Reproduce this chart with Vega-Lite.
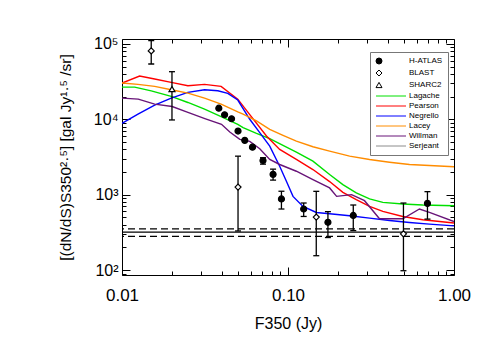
{
  "$schema": "https://vega.github.io/schema/vega-lite/v6.json",
  "width": 332,
  "height": 236,
  "autosize": {"type": "none"},
  "padding": {"left": 122, "top": 39, "right": 37, "bottom": 79},
  "background": "white",
  "datasets": {
    "models": [
      {"series": "Lagache", "F": 0.01, "N": 26720},
      {"series": "Lagache", "F": 0.01192, "N": 26720},
      {"series": "Lagache", "F": 0.015, "N": 23840},
      {"series": "Lagache", "F": 0.01979, "N": 20080},
      {"series": "Lagache", "F": 0.02494, "N": 16700},
      {"series": "Lagache", "F": 0.03143, "N": 13590},
      {"series": "Lagache", "F": 0.03954, "N": 10870},
      {"series": "Lagache", "F": 0.04983, "N": 8577},
      {"series": "Lagache", "F": 0.05363, "N": 7752},
      {"series": "Lagache", "F": 0.06457, "N": 6506},
      {"series": "Lagache", "F": 0.07762, "N": 5529},
      {"series": "Lagache", "F": 0.0933, "N": 4500},
      {"series": "Lagache", "F": 0.1123, "N": 3664},
      {"series": "Lagache", "F": 0.1413, "N": 2780},
      {"series": "Lagache", "F": 0.1781, "N": 1848},
      {"series": "Lagache", "F": 0.2141, "N": 1359},
      {"series": "Lagache", "F": 0.2578, "N": 1054},
      {"series": "Lagache", "F": 0.3099, "N": 877},
      {"series": "Lagache", "F": 0.3726, "N": 790},
      {"series": "Lagache", "F": 0.4914, "N": 752},
      {"series": "Lagache", "F": 0.6483, "N": 729},
      {"series": "Lagache", "F": 1.0, "N": 713},
      {"series": "Pearson", "F": 0.01, "N": 30200},
      {"series": "Pearson", "F": 0.01277, "N": 37400},
      {"series": "Pearson", "F": 0.01573, "N": 34150},
      {"series": "Pearson", "F": 0.01979, "N": 30850},
      {"series": "Pearson", "F": 0.02494, "N": 27800},
      {"series": "Pearson", "F": 0.03143, "N": 29000},
      {"series": "Pearson", "F": 0.03954, "N": 27300},
      {"series": "Pearson", "F": 0.04983, "N": 18480},
      {"series": "Pearson", "F": 0.05884, "N": 11500},
      {"series": "Pearson", "F": 0.07418, "N": 5990},
      {"series": "Pearson", "F": 0.0891, "N": 3981},
      {"series": "Pearson", "F": 0.1123, "N": 2929},
      {"series": "Pearson", "F": 0.1413, "N": 2154},
      {"series": "Pearson", "F": 0.1781, "N": 1491},
      {"series": "Pearson", "F": 0.2141, "N": 1073},
      {"series": "Pearson", "F": 0.2578, "N": 858},
      {"series": "Pearson", "F": 0.3099, "N": 698},
      {"series": "Pearson", "F": 0.3726, "N": 599},
      {"series": "Pearson", "F": 0.4914, "N": 514},
      {"series": "Pearson", "F": 0.6483, "N": 464},
      {"series": "Pearson", "F": 1.0, "N": 420},
      {"series": "Negrello", "F": 0.01, "N": 8845},
      {"series": "Negrello", "F": 0.01248, "N": 11660},
      {"series": "Negrello", "F": 0.01573, "N": 15370},
      {"series": "Negrello", "F": 0.01979, "N": 19050},
      {"series": "Negrello", "F": 0.02494, "N": 22700},
      {"series": "Negrello", "F": 0.03143, "N": 24580},
      {"series": "Negrello", "F": 0.03779, "N": 23840},
      {"series": "Negrello", "F": 0.04339, "N": 22010},
      {"series": "Negrello", "F": 0.04983, "N": 18000},
      {"series": "Negrello", "F": 0.05884, "N": 10000},
      {"series": "Negrello", "F": 0.06757, "N": 6648},
      {"series": "Negrello", "F": 0.07762, "N": 4406},
      {"series": "Negrello", "F": 0.0891, "N": 2384},
      {"series": "Negrello", "F": 0.0978, "N": 1504},
      {"series": "Negrello", "F": 0.1072, "N": 949},
      {"series": "Negrello", "F": 0.1231, "N": 698},
      {"series": "Negrello", "F": 0.1482, "N": 581},
      {"series": "Negrello", "F": 0.1781, "N": 558},
      {"series": "Negrello", "F": 0.235, "N": 525},
      {"series": "Negrello", "F": 0.3099, "N": 489},
      {"series": "Negrello", "F": 0.4088, "N": 454},
      {"series": "Negrello", "F": 0.5392, "N": 427},
      {"series": "Negrello", "F": 0.7112, "N": 407},
      {"series": "Negrello", "F": 1.0, "N": 386},
      {"series": "Lacey", "F": 0.01, "N": 30200},
      {"series": "Lacey", "F": 0.01248, "N": 29000},
      {"series": "Lacey", "F": 0.01573, "N": 27300},
      {"series": "Lacey", "F": 0.01979, "N": 24580},
      {"series": "Lacey", "F": 0.02494, "N": 22220},
      {"series": "Lacey", "F": 0.03143, "N": 19050},
      {"series": "Lacey", "F": 0.03954, "N": 15850},
      {"series": "Lacey", "F": 0.04983, "N": 12510},
      {"series": "Lacey", "F": 0.05363, "N": 11660},
      {"series": "Lacey", "F": 0.06457, "N": 9490},
      {"series": "Lacey", "F": 0.07762, "N": 7356},
      {"series": "Lacey", "F": 0.0933, "N": 6118},
      {"series": "Lacey", "F": 0.1123, "N": 5136},
      {"series": "Lacey", "F": 0.1413, "N": 4325},
      {"series": "Lacey", "F": 0.1781, "N": 3779},
      {"series": "Lacey", "F": 0.235, "N": 3241},
      {"series": "Lacey", "F": 0.3099, "N": 2929},
      {"series": "Lacey", "F": 0.4088, "N": 2696},
      {"series": "Lacey", "F": 0.5392, "N": 2512},
      {"series": "Lacey", "F": 0.7112, "N": 2436},
      {"series": "Lacey", "F": 1.0, "N": 2341},
      {"series": "Willman", "F": 0.01, "N": 19050},
      {"series": "Willman", "F": 0.01253, "N": 18480},
      {"series": "Willman", "F": 0.01573, "N": 15850},
      {"series": "Willman", "F": 0.02006, "N": 14770},
      {"series": "Willman", "F": 0.02449, "N": 12510},
      {"series": "Willman", "F": 0.03156, "N": 10220},
      {"series": "Willman", "F": 0.03976, "N": 8577},
      {"series": "Willman", "F": 0.04461, "N": 6772},
      {"series": "Willman", "F": 0.05124, "N": 5412},
      {"series": "Willman", "F": 0.05884, "N": 5090},
      {"series": "Willman", "F": 0.06757, "N": 4067},
      {"series": "Willman", "F": 0.07762, "N": 2929},
      {"series": "Willman", "F": 0.0891, "N": 2512},
      {"series": "Willman", "F": 0.1123, "N": 2045},
      {"series": "Willman", "F": 0.1413, "N": 1585},
      {"series": "Willman", "F": 0.1781, "N": 1228},
      {"series": "Willman", "F": 0.1963, "N": 949},
      {"series": "Willman", "F": 0.2415, "N": 1000},
      {"series": "Willman", "F": 0.2891, "N": 832},
      {"series": "Willman", "F": 0.3558, "N": 479},
      {"series": "Willman", "F": 0.4914, "N": 479},
      {"series": "Willman", "F": 0.6194, "N": 645},
      {"series": "Willman", "F": 0.7112, "N": 581},
      {"series": "Willman", "F": 1.0, "N": 441}
    ],
    "obs": [
      {"series": "H-ATLAS", "F": 0.0383, "N": 14020},
      {"series": "H-ATLAS", "F": 0.0415, "N": 11480},
      {"series": "H-ATLAS", "F": 0.0457, "N": 10150},
      {"series": "H-ATLAS", "F": 0.05, "N": 6980},
      {"series": "H-ATLAS", "F": 0.0549, "N": 5250},
      {"series": "H-ATLAS", "F": 0.0611, "N": 4270},
      {"series": "H-ATLAS", "F": 0.0707, "N": 2840},
      {"series": "H-ATLAS", "F": 0.0813, "N": 1860},
      {"series": "H-ATLAS", "F": 0.0913, "N": 877},
      {"series": "H-ATLAS", "F": 0.1243, "N": 645},
      {"series": "H-ATLAS", "F": 0.174, "N": 430},
      {"series": "H-ATLAS", "F": 0.2473, "N": 530},
      {"series": "H-ATLAS", "F": 0.692, "N": 766},
      {"series": "BLAST", "F": 0.015, "N": 80700},
      {"series": "BLAST", "F": 0.05, "N": 1259},
      {"series": "BLAST", "F": 0.148, "N": 504},
      {"series": "BLAST", "F": 0.496, "N": 302},
      {"series": "SHARC2", "F": 0.02, "N": 25100}
    ],
    "errs": [
      {"series": "H-ATLAS", "F": 0.0707, "lo": 2540, "hi": 3090},
      {"series": "H-ATLAS", "F": 0.0813, "lo": 1560, "hi": 2180},
      {"series": "H-ATLAS", "F": 0.0913, "lo": 645, "hi": 1110},
      {"series": "H-ATLAS", "F": 0.1243, "lo": 514, "hi": 775},
      {"series": "H-ATLAS", "F": 0.174, "lo": 270, "hi": 595},
      {"series": "H-ATLAS", "F": 0.2473, "lo": 334, "hi": 729},
      {"series": "H-ATLAS", "F": 0.692, "lo": 474, "hi": 1096},
      {"series": "BLAST", "F": 0.015, "lo": 54100, "hi": 110700},
      {"series": "BLAST", "F": 0.05, "lo": 330, "hi": 3240},
      {"series": "BLAST", "F": 0.148, "lo": 155, "hi": 1107},
      {"series": "BLAST", "F": 0.496, "lo": 98, "hi": 774},
      {"series": "SHARC2", "F": 0.02, "lo": 9790, "hi": 42750}
    ],
    "hlines": [
      {"kind": "solid", "N": 318},
      {"kind": "dashed", "N": 352},
      {"kind": "dashed", "N": 279}
    ]
  },
  "layer": [
    {
      "data": {"name": "hlines"},
      "mark": {"type": "rule", "color": "black", "strokeWidth": 1.3},
      "encoding": {
        "y": {"field": "N", "type": "quantitative", "scale": {"type": "log", "domain": [86, 116000], "nice": false, "padding": 0}, "axis": null},
        "strokeDash": {"field": "kind", "type": "nominal", "scale": {"domain": ["solid", "dashed"], "range": [[1, 0], [7, 4]]}, "legend": null}
      }
    },
    {
      "data": {"name": "models"},
      "mark": {"type": "line", "strokeWidth": 1.4, "clip": true},
      "encoding": {
        "x": {
          "field": "F", "type": "quantitative",
          "scale": {"type": "log", "domain": [0.01, 1.0], "nice": false, "padding": 0},
          "axis": {
            "orient": "bottom",
            "values": [0.01, 0.02, 0.03, 0.04, 0.05, 0.06, 0.07, 0.08, 0.09, 0.1, 0.2, 0.3, 0.4, 0.5, 0.6, 0.7, 0.8, 0.9, 1.0],
            "labelExpr": "datum.value == 0.01 ? '0.01' : datum.value == 0.1 ? '0.10' : datum.value == 1 ? '1.00' : ''",
            "tickSize": {"condition": {"test": "indexof([0.01, 0.1, 1], datum.value) >= 0", "value": -8}, "value": -4},
            "labelFlush": false,
            "labelPadding": 20,
            "labelFontSize": 17,
            "labelBaseline": "top",
            "title": "F350 (Jy)",
            "titleFontSize": 16,
            "titlePadding": 12
          }
        },
        "y": {
          "field": "N", "type": "quantitative",
          "scale": {"type": "log", "domain": [86, 116000], "nice": false, "padding": 0},
          "axis": {
            "orient": "left",
            "values": [90, 100, 200, 300, 400, 500, 600, 700, 800, 900, 1000, 2000, 3000, 4000, 5000, 6000, 7000, 8000, 9000, 10000, 20000, 30000, 40000, 50000, 60000, 70000, 80000, 90000, 100000],
            "labelExpr": "datum.value == 100 ? '10²' : datum.value == 1000 ? '10³' : datum.value == 10000 ? '10⁴' : datum.value == 100000 ? '10⁵' : ''",
            "tickSize": {"condition": {"test": "indexof([100, 1000, 10000, 100000], datum.value) >= 0", "value": -8}, "value": -4},
            "labelFlush": false,
            "labelPadding": 12,
            "labelFontSize": 16,
            "title": "[(dN/dS)S350²·⁵] [gal Jy¹·⁵ /sr]",
            "titleFontSize": 15.5,
            "titlePadding": 20
          }
        },
        "color": {
          "field": "series", "type": "nominal",
          "scale": {"domain": ["Lagache", "Pearson", "Negrello", "Lacey", "Willman"], "range": ["#00e000", "#ff0000", "#0000ff", "#ff8c00", "#681478"]},
          "legend": null
        }
      }
    },
    {
      "data": {"name": "errs"},
      "mark": {"type": "rule", "color": "black", "strokeWidth": 1.3},
      "encoding": {
        "x": {"field": "F", "type": "quantitative", "scale": {"type": "log", "domain": [0.01, 1.0], "nice": false, "padding": 0}, "axis": null},
        "y": {"field": "lo", "type": "quantitative", "scale": {"type": "log", "domain": [86, 116000], "nice": false, "padding": 0}, "axis": null},
        "y2": {"field": "hi"}
      }
    },
    {
      "data": {"name": "errs"},
      "mark": {"type": "tick", "orient": "horizontal", "size": 6, "thickness": 1.3, "color": "black", "opacity": 1},
      "encoding": {
        "x": {"field": "F", "type": "quantitative", "scale": {"type": "log", "domain": [0.01, 1.0], "nice": false, "padding": 0}, "axis": null},
        "y": {"field": "lo", "type": "quantitative", "scale": {"type": "log", "domain": [86, 116000], "nice": false, "padding": 0}, "axis": null}
      }
    },
    {
      "data": {"name": "errs"},
      "mark": {"type": "tick", "orient": "horizontal", "size": 6, "thickness": 1.3, "color": "black", "opacity": 1},
      "encoding": {
        "x": {"field": "F", "type": "quantitative", "scale": {"type": "log", "domain": [0.01, 1.0], "nice": false, "padding": 0}, "axis": null},
        "y": {"field": "hi", "type": "quantitative", "scale": {"type": "log", "domain": [86, 116000], "nice": false, "padding": 0}, "axis": null}
      }
    },
    {
      "data": {"name": "obs"},
      "mark": {"type": "point", "strokeWidth": 1.2, "opacity": 1, "fillOpacity": 1, "size": 36},
      "encoding": {
        "x": {
          "field": "F", "type": "quantitative",
          "scale": {"type": "log", "domain": [0.01, 1.0], "nice": false, "padding": 0},
          "axis": {
            "orient": "top",
            "values": [0.01, 0.02, 0.03, 0.04, 0.05, 0.06, 0.07, 0.08, 0.09, 0.1, 0.2, 0.3, 0.4, 0.5, 0.6, 0.7, 0.8, 0.9, 1.0],
            "labels": false,
            "tickSize": {"condition": {"test": "indexof([0.01, 0.1, 1], datum.value) >= 0", "value": -8}, "value": -4},
            "title": null
          }
        },
        "y": {
          "field": "N", "type": "quantitative",
          "scale": {"type": "log", "domain": [86, 116000], "nice": false, "padding": 0},
          "axis": {
            "orient": "right",
            "values": [90, 100, 200, 300, 400, 500, 600, 700, 800, 900, 1000, 2000, 3000, 4000, 5000, 6000, 7000, 8000, 9000, 10000, 20000, 30000, 40000, 50000, 60000, 70000, 80000, 90000, 100000],
            "labels": false,
            "tickSize": {"condition": {"test": "indexof([100, 1000, 10000, 100000], datum.value) >= 0", "value": -8}, "value": -4},
            "title": null
          }
        },
        "stroke": {
          "field": "series", "type": "nominal",
          "scale": {"domain": ["H-ATLAS", "BLAST", "SHARC2", "Lagache", "Pearson", "Negrello", "Lacey", "Willman", "Serjeant"], "range": ["black", "black", "black", "#00e000", "#ff0000", "#0000ff", "#ff8c00", "#681478", "#8c8c8c"]}
        },
        "fill": {
          "field": "series", "type": "nominal",
          "scale": {"domain": ["H-ATLAS", "BLAST", "SHARC2", "Lagache", "Pearson", "Negrello", "Lacey", "Willman", "Serjeant"], "range": ["black", "white", "white", "transparent", "transparent", "transparent", "transparent", "transparent", "transparent"]}
        },
        "shape": {
          "field": "series", "type": "nominal",
          "scale": {"domain": ["H-ATLAS", "BLAST", "SHARC2", "Lagache", "Pearson", "Negrello", "Lacey", "Willman", "Serjeant"], "range": ["circle", "diamond", "triangle-up", "M-1,0H9", "M-1,0H9", "M-1,0H9", "M-1,0H9", "M-1,0H9", "M-1,0H9"]}
        }
      }
    }
  ],
  "resolve": {"axis": {"x": "independent", "y": "independent"}},
  "config": {
    "view": {"stroke": "black", "strokeWidth": 1},
    "axis": {
      "domain": false, "grid": false, "tickColor": "black", "tickWidth": 1,
      "labelColor": "black", "titleColor": "black",
      "labelFont": "Liberation Sans", "titleFont": "Liberation Sans", "titleFontWeight": "normal"
    },
    "legend": {
      "title": null,
      "orient": "none", "legendX": 248, "legendY": 13,
      "fillColor": "white", "strokeColor": "#777777", "padding": 5,
      "labelFont": "Liberation Sans", "labelFontSize": 8, "labelColor": "black",
      "labelOffset": 26,
      "symbolSize": 36,
      "rowPadding": 2, "symbolStrokeWidth": 1
    }
  }
}
